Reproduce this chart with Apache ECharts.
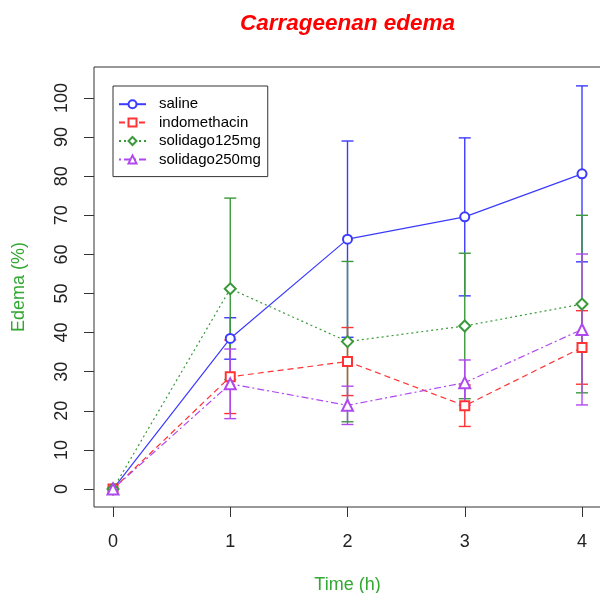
<!DOCTYPE html>
<html>
<head>
<meta charset="utf-8">
<script src="https://cdn.jsdelivr.net/npm/echarts@6/dist/echarts.min.js"></script>
<style>
html,body{margin:0;padding:0;background:#fff;}
#chart{width:600px;height:593px;}
</style>
</head>
<body>
<div id="chart"></div>
<script>
// ---- data ----
var timePoints = [0, 1, 2, 3, 4];
var yTicks = [0, 10, 20, 30, 40, 50, 60, 70, 80, 90, 100];
var seriesNames = ['saline', 'indomethacin', 'solidago125mg', 'solidago250mg'];
var saline = [0, 38.5, 63.9, 69.6, 80.6];
var salineErr = [0, 5.3, 25.1, 20.2, 22.5];
var indomethacin = [0, 28.7, 32.6, 21.3, 36.2];
var indomethacinErr = [0, 9.4, 8.7, 5.3, 9.4];
var solidago125 = [0, 51.2, 37.7, 41.7, 47.3];
var solidago125Err = [0, 23.2, 20.5, 18.6, 22.7];
var solidago250 = [0, 26.9, 21.4, 27.2, 40.8];
var solidago250Err = [0, 8.9, 4.9, 5.8, 19.3];

// ---- styles ----
var FONT = '"Liberation Sans", Arial, sans-serif';
var colors = ['#3b3bff', '#ff3333', '#3a9a3a', '#b048f0'];
var symbols = ['emptyCircle', 'emptyRect', 'emptyDiamond', 'emptyTriangle'];
var symbolSizes = [9, 9, 11, 11];
var dashes = ['solid', [6, 4], [2, 3], [2, 3, 7, 3]];
var means = [saline, indomethacin, solidago125, solidago250];
var errs = [salineErr, indomethacinErr, solidago125Err, solidago250Err];

var series = [];
seriesNames.forEach(function (name, i) {
  series.push({
    name: name,
    type: 'line',
    data: timePoints.map(function (t, k) { return [t, means[i][k]]; }),
    symbol: symbols[i],
    symbolSize: symbolSizes[i],
    color: colors[i],
    lineStyle: { color: colors[i], width: 1.2, type: dashes[i] },
    itemStyle: { color: colors[i], borderWidth: 1.2 },
    z: 3,
    silent: true,
    animation: false
  });
});
seriesNames.forEach(function (name, i) {
  series.push({
    name: name + '-err',
    type: 'custom',
    data: timePoints.map(function (t, k) {
      return [t, means[i][k] - errs[i][k], means[i][k] + errs[i][k]];
    }),
    renderItem: function (params, api) {
      if (api.value(2) === api.value(1)) return null;
      var lo = api.coord([api.value(0), api.value(1)]);
      var hi = api.coord([api.value(0), api.value(2)]);
      var hw = 6;
      var st = { stroke: colors[i], lineWidth: 1.4 };
      return {
        type: 'group',
        children: [
          { type: 'line', shape: { x1: lo[0], y1: lo[1], x2: hi[0], y2: hi[1] }, style: st },
          { type: 'line', shape: { x1: lo[0] - hw, y1: lo[1], x2: lo[0] + hw, y2: lo[1] }, style: st },
          { type: 'line', shape: { x1: hi[0] - hw, y1: hi[1], x2: hi[0] + hw, y2: hi[1] }, style: st }
        ]
      };
    },
    z: 2,
    silent: true,
    animation: false
  });
});

var chart = echarts.init(document.getElementById('chart'), null, { renderer: 'canvas' });
chart.setOption({
  backgroundColor: '#fff',
  animation: false,
  title: {
    text: 'Carrageenan edema',
    left: 235,
    top: 7,
    textStyle: { color: '#ff0000', fontSize: 22.5, fontWeight: 'bold', fontStyle: 'italic', fontFamily: FONT }
  },
  legend: {
    data: seriesNames,
    orient: 'vertical',
    left: 113,
    top: 86,
    padding: [9, 7, 8, 5],
    itemGap: 0,
    itemWidth: 27,
    itemHeight: 10,
    borderColor: '#333',
    borderWidth: 1,
    borderRadius: 0,
    textStyle: { color: '#000', fontSize: 15, fontFamily: FONT, lineHeight: 18.4, padding: [0, 0, 0, 8] }
  },
  grid: {
    left: 94, top: 67, width: 507, height: 440,
    outerBoundsMode: 'none',
    containLabel: false,
    show: true, borderColor: '#333', borderWidth: 1, backgroundColor: 'transparent'
  },
  xAxis: {
    type: 'value',
    min: -0.162, max: 4.162,
    name: 'Time (h)',
    nameLocation: 'middle',
    nameGap: 69,
    nameTextStyle: { color: '#33a833', fontSize: 18, fontFamily: FONT },
    axisLine: { show: false, onZero: false },
    axisTick: { show: true, length: 10, customValues: timePoints, lineStyle: { color: '#333' } },
    axisLabel: { customValues: timePoints, margin: 26, color: '#222', fontSize: 18, fontFamily: FONT },
    splitLine: { show: false }
  },
  yAxis: {
    type: 'value',
    min: -4.6, max: 107.93,
    name: 'Edema (%)',
    nameLocation: 'middle',
    nameGap: 66,
    nameTextStyle: { color: '#33a833', fontSize: 18, fontFamily: FONT },
    axisLine: { show: false, onZero: false },
    axisTick: { show: true, length: 10, customValues: yTicks, lineStyle: { color: '#333' } },
    axisLabel: { customValues: yTicks, rotate: 90, margin: 23, color: '#222', fontSize: 18, fontFamily: FONT },
    splitLine: { show: false }
  },
  series: series
});
</script>
</body>
</html>
